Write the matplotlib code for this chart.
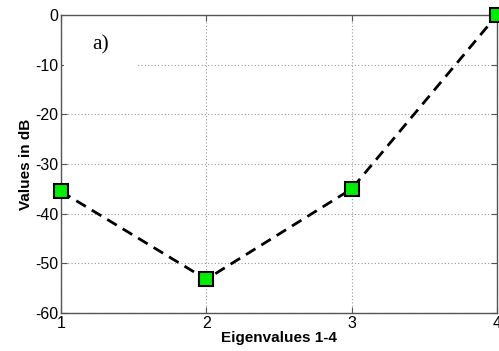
import matplotlib
matplotlib.use("Agg")
import matplotlib.pyplot as plt

plt.rcParams['axes.unicode_minus'] = False

x = [1, 2, 3, 4]
values_db = [-35.5, -53.2, -35.0, 0.0]
xticks = [1, 2, 3, 4]
yticks = [-60, -50, -40, -30, -20, -10, 0]

fig = plt.figure(figsize=(4.99, 3.51), dpi=100)
ax = fig.add_axes([0.122, 0.108, 0.874, 0.849])
ax.plot(x, values_db, linestyle=(0, (4, 2.5)), color='black', linewidth=2.0,
        marker='s', markersize=10, markerfacecolor='#00ee00',
        markeredgecolor='black', markeredgewidth=1.5, clip_on=False, zorder=3)
ax.set_xlim(1, 4)
ax.set_ylim(-60, 0)
ax.set_xticks(xticks)
ax.set_yticks(yticks)
ax.grid(True, linestyle=(0, (1, 2)), color='#999999', linewidth=0.8)
for s in ax.spines.values():
    s.set_color('#555555')
    s.set_linewidth(1.0)
ax.tick_params(direction='in', length=4, labelsize=11.5, color='#555555', pad=2,
               top=True, right=True)
for lbl in ax.get_xticklabels() + ax.get_yticklabels():
    lbl.set_fontfamily('Liberation Sans')
ax.set_xlabel('Eigenvalues 1-4', fontsize=11, fontweight='bold', family='Liberation Sans', labelpad=0)
ax.set_ylabel('Values in dB', fontsize=11, fontweight='bold', family='Liberation Sans', labelpad=1)
ax.text(1.27, -6, 'a)', fontsize=15.5, family='Liberation Serif', va='center', ha='center',
        bbox=dict(facecolor='white', edgecolor='none', pad=20), zorder=2)
fig.savefig('out.png', dpi=100)
